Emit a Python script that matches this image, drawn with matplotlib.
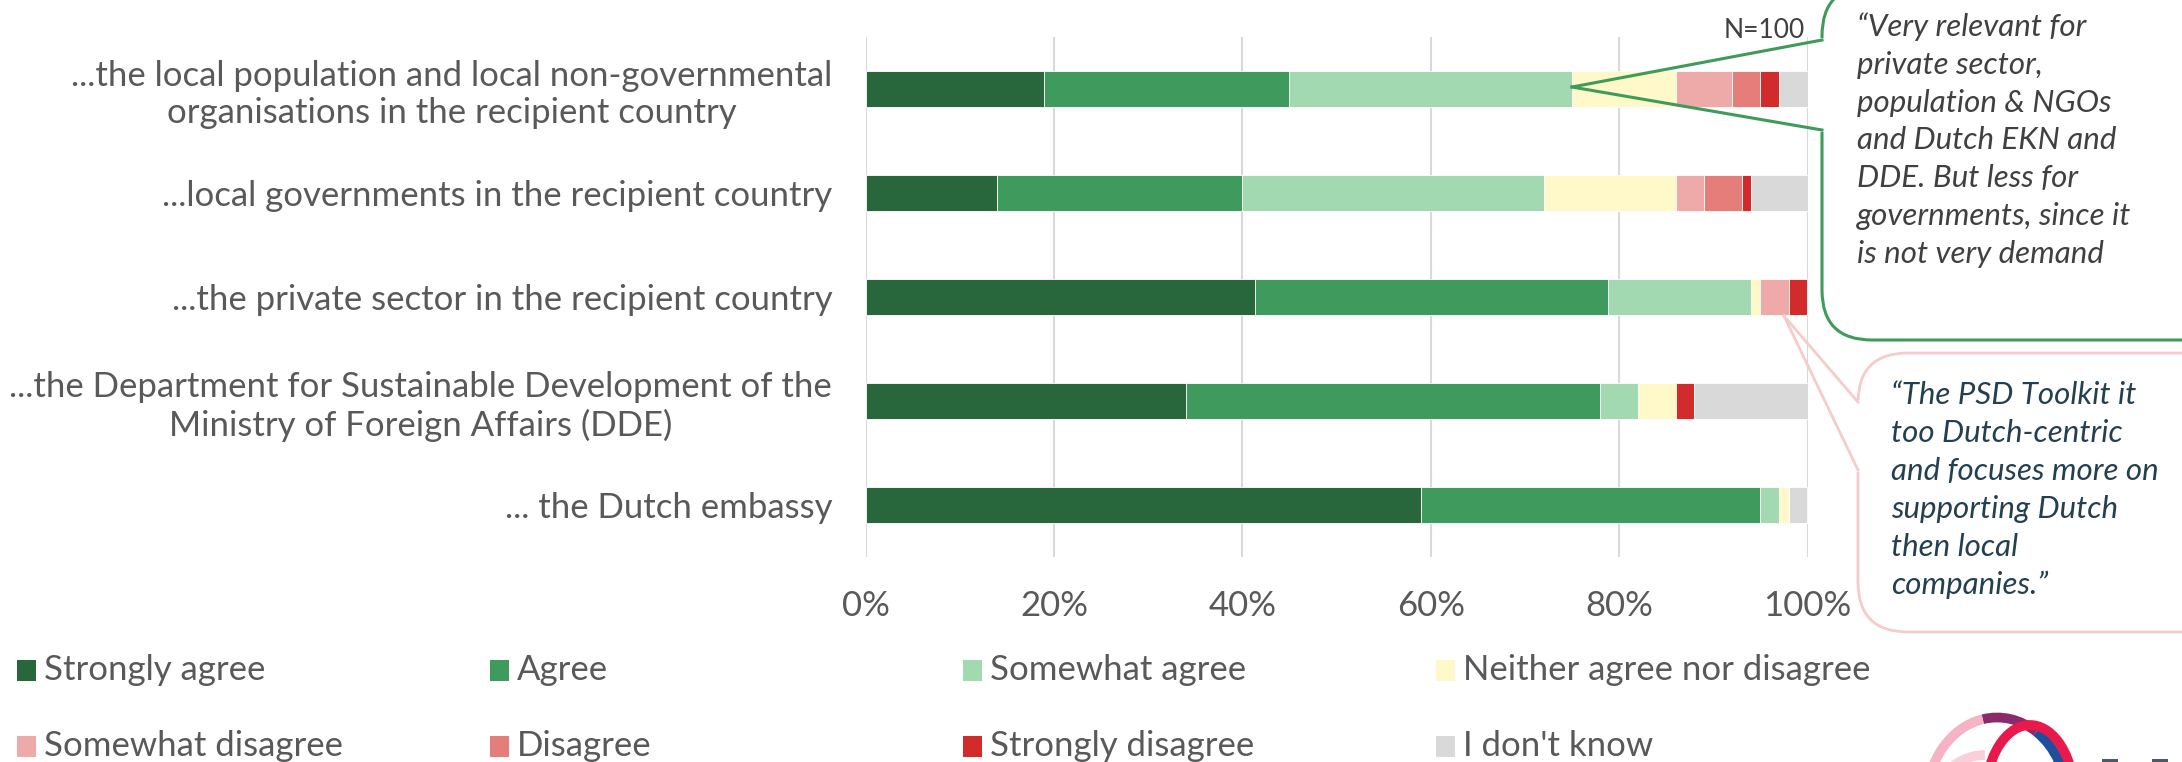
import numpy as np
import matplotlib
matplotlib.use("Agg")
import matplotlib.pyplot as plt
from matplotlib.patches import FancyBboxPatch, Rectangle, Arc
from matplotlib.lines import Line2D
from matplotlib.transforms import IdentityTransform

plt.rcParams['font.family'] = ['Lato', 'DejaVu Sans']

# data (percent of respondents)
rows = ["...the local population and local non-governmental\norganisations in the recipient country",
        "...local governments in the recipient country",
        "...the private sector in the recipient country",
        "...the Department for Sustainable Development of the\nMinistry of Foreign Affairs (DDE)",
        "... the Dutch embassy"]
levels = ["Strongly agree", "Agree", "Somewhat agree", "Neither agree nor disagree",
          "Somewhat disagree", "Disagree", "Strongly disagree", "I don't know"]
strongly_agree = [19, 14, 41.4, 34, 59]
agree          = [26, 26, 37.4, 44, 36]
somewhat_agree = [30, 32, 15.2, 4, 2]
neither        = [11, 14, 1.0, 4, 1]
somewhat_dis   = [6, 3, 3.0, 0, 0]
disagree       = [3, 4, 0, 0, 0]
strongly_dis   = [2, 1, 2.0, 2, 0]
dont_know      = [3, 6, 0, 12, 2]
series = [strongly_agree, agree, somewhat_agree, neither,
          somewhat_dis, disagree, strongly_dis, dont_know]
colors = ["#28673C", "#3F9B5D", "#A3D9B1", "#FFF8C8",
          "#EEAAA8", "#E57E7A", "#D22B2B", "#D9D9D9"]
xticks = [0, 20, 40, 60, 80, 100]

quote1 = ("\u201cVery relevant for\nprivate sector,\npopulation & NGOs\n"
          "and Dutch EKN and\nDDE. But less for\ngovernments, since it\nis not very demand")
quote2 = ("\u201cThe PSD Toolkit it\ntoo Dutch-centric\nand focuses more on\n"
          "supporting Dutch\nthen local\ncompanies.\u201d")

W, H = 2182, 762
grey = "#595959"
fig = plt.figure(figsize=(W / 100, H / 100), dpi=100)

def fx(x):
    return x / W

def fy(y):
    return 1 - y / H

ax = fig.add_axes([fx(865.5), fy(557), fx(1807.5) - fx(865.5), fy(37) - fy(557)])
ypos = np.arange(len(rows))
left = np.zeros(len(rows))
for vals, c, name in zip(series, colors, levels):
    ax.barh(ypos, vals, left=left, height=0.34, color=c, edgecolor="white",
            linewidth=0.6, label=name, zorder=3)
    left += np.array(vals)

ax.set_xlim(0, 100)
ax.set_ylim(len(rows) - 0.5, -0.5)
ax.set_xticks(xticks)
ax.set_xticklabels([f"{t}%" for t in xticks])
ax.set_yticks(ypos)
ax.set_yticklabels(rows)
for lbl in ax.get_yticklabels():
    lbl.set_multialignment("center")
ax.tick_params(axis="both", length=0, labelsize=25, labelcolor=grey)
ax.tick_params(axis="x", pad=24)
ax.tick_params(axis="y", pad=24)
ax.grid(axis="x", color="#D9D9D9", linewidth=1.5, zorder=0)
for s in ax.spines.values():
    s.set_visible(False)

fig.text(fx(1805), fy(31), "N=100", ha="right", va="center", fontsize=19, color="#404040")

ident = IdentityTransform()

def callout(x0, y0, x1, y1, a1, a2, tip, col, lw, r):
    # rounded box in pixel coordinates (y down from top)
    box = FancyBboxPatch((x0, H - y1), x1 - x0, y1 - y0,
                         boxstyle=f"round,pad=0,rounding_size={r}",
                         facecolor="white", edgecolor=col, linewidth=lw,
                         transform=ident, zorder=5)
    fig.patches.append(box)
    fig.lines.append(Line2D([x0, x0], [H - a1 - 1, H - a2 + 1], color="white",
                            linewidth=lw + 2, transform=ident, zorder=6))
    for a in (a1, a2):
        fig.lines.append(Line2D([x0, tip[0]], [H - a, H - tip[1]], color=col,
                                linewidth=lw, transform=ident, zorder=7))

callout(1822, -14, 2240, 340, 40, 130, (1572, 87), "#3E9B5A", 2.2, 50)
callout(1858, 353, 2240, 632, 402, 470, (1784, 316), "#F5CBCB", 2.0, 50)

fig.text(fx(1857), fy(12), quote1, ha="left", va="top", fontsize=22.5,
         style="italic", color="#404040", linespacing=1.43, zorder=8)
fig.text(fx(1891), fy(381), quote2, ha="left", va="top", fontsize=22.5,
         style="italic", color="#243F4F", linespacing=1.43, zorder=8)

# legend, 2 rows x 4 columns
col_x = [17, 490, 963, 1436]
row_y = [670, 746]
for i, (name, c) in enumerate(zip(levels, colors)):
    x = col_x[i % 4]
    y = row_y[i // 4]
    fig.patches.append(Rectangle((x, H - y - 10.5), 19, 21, facecolor=c,
                                 edgecolor="none", transform=ident))
    fig.text(fx(x + 27), fy(y), name, ha="left", va="center", fontsize=25, color=grey)

# partial logo at bottom right
logo = [(1997, 800, 140, 165, 0, 60, "#1F4E9C"),
        (1997, 800, 140, 165, 60, 100, "#8B2A6B"),
        (1997, 800, 140, 165, 100, 180, "#F6B3C3"),
        (2030, 800, 90, 150, 20, 160, "#E8194B"),
        (1985, 815, 110, 120, 90, 180, "#F9D0DA")]
for cx, cy, w, h, t1, t2, c in logo:
    fig.patches.append(Arc((cx, H - cy), w, h, theta1=t1, theta2=t2, color=c,
                           linewidth=7, transform=ident))
for lx in (2110, 2160):
    fig.patches.append(Rectangle((lx - 8, 0), 16, 3, facecolor="#4A5A6A",
                                 edgecolor="none", transform=ident))

fig.savefig("out.png", dpi=100)
